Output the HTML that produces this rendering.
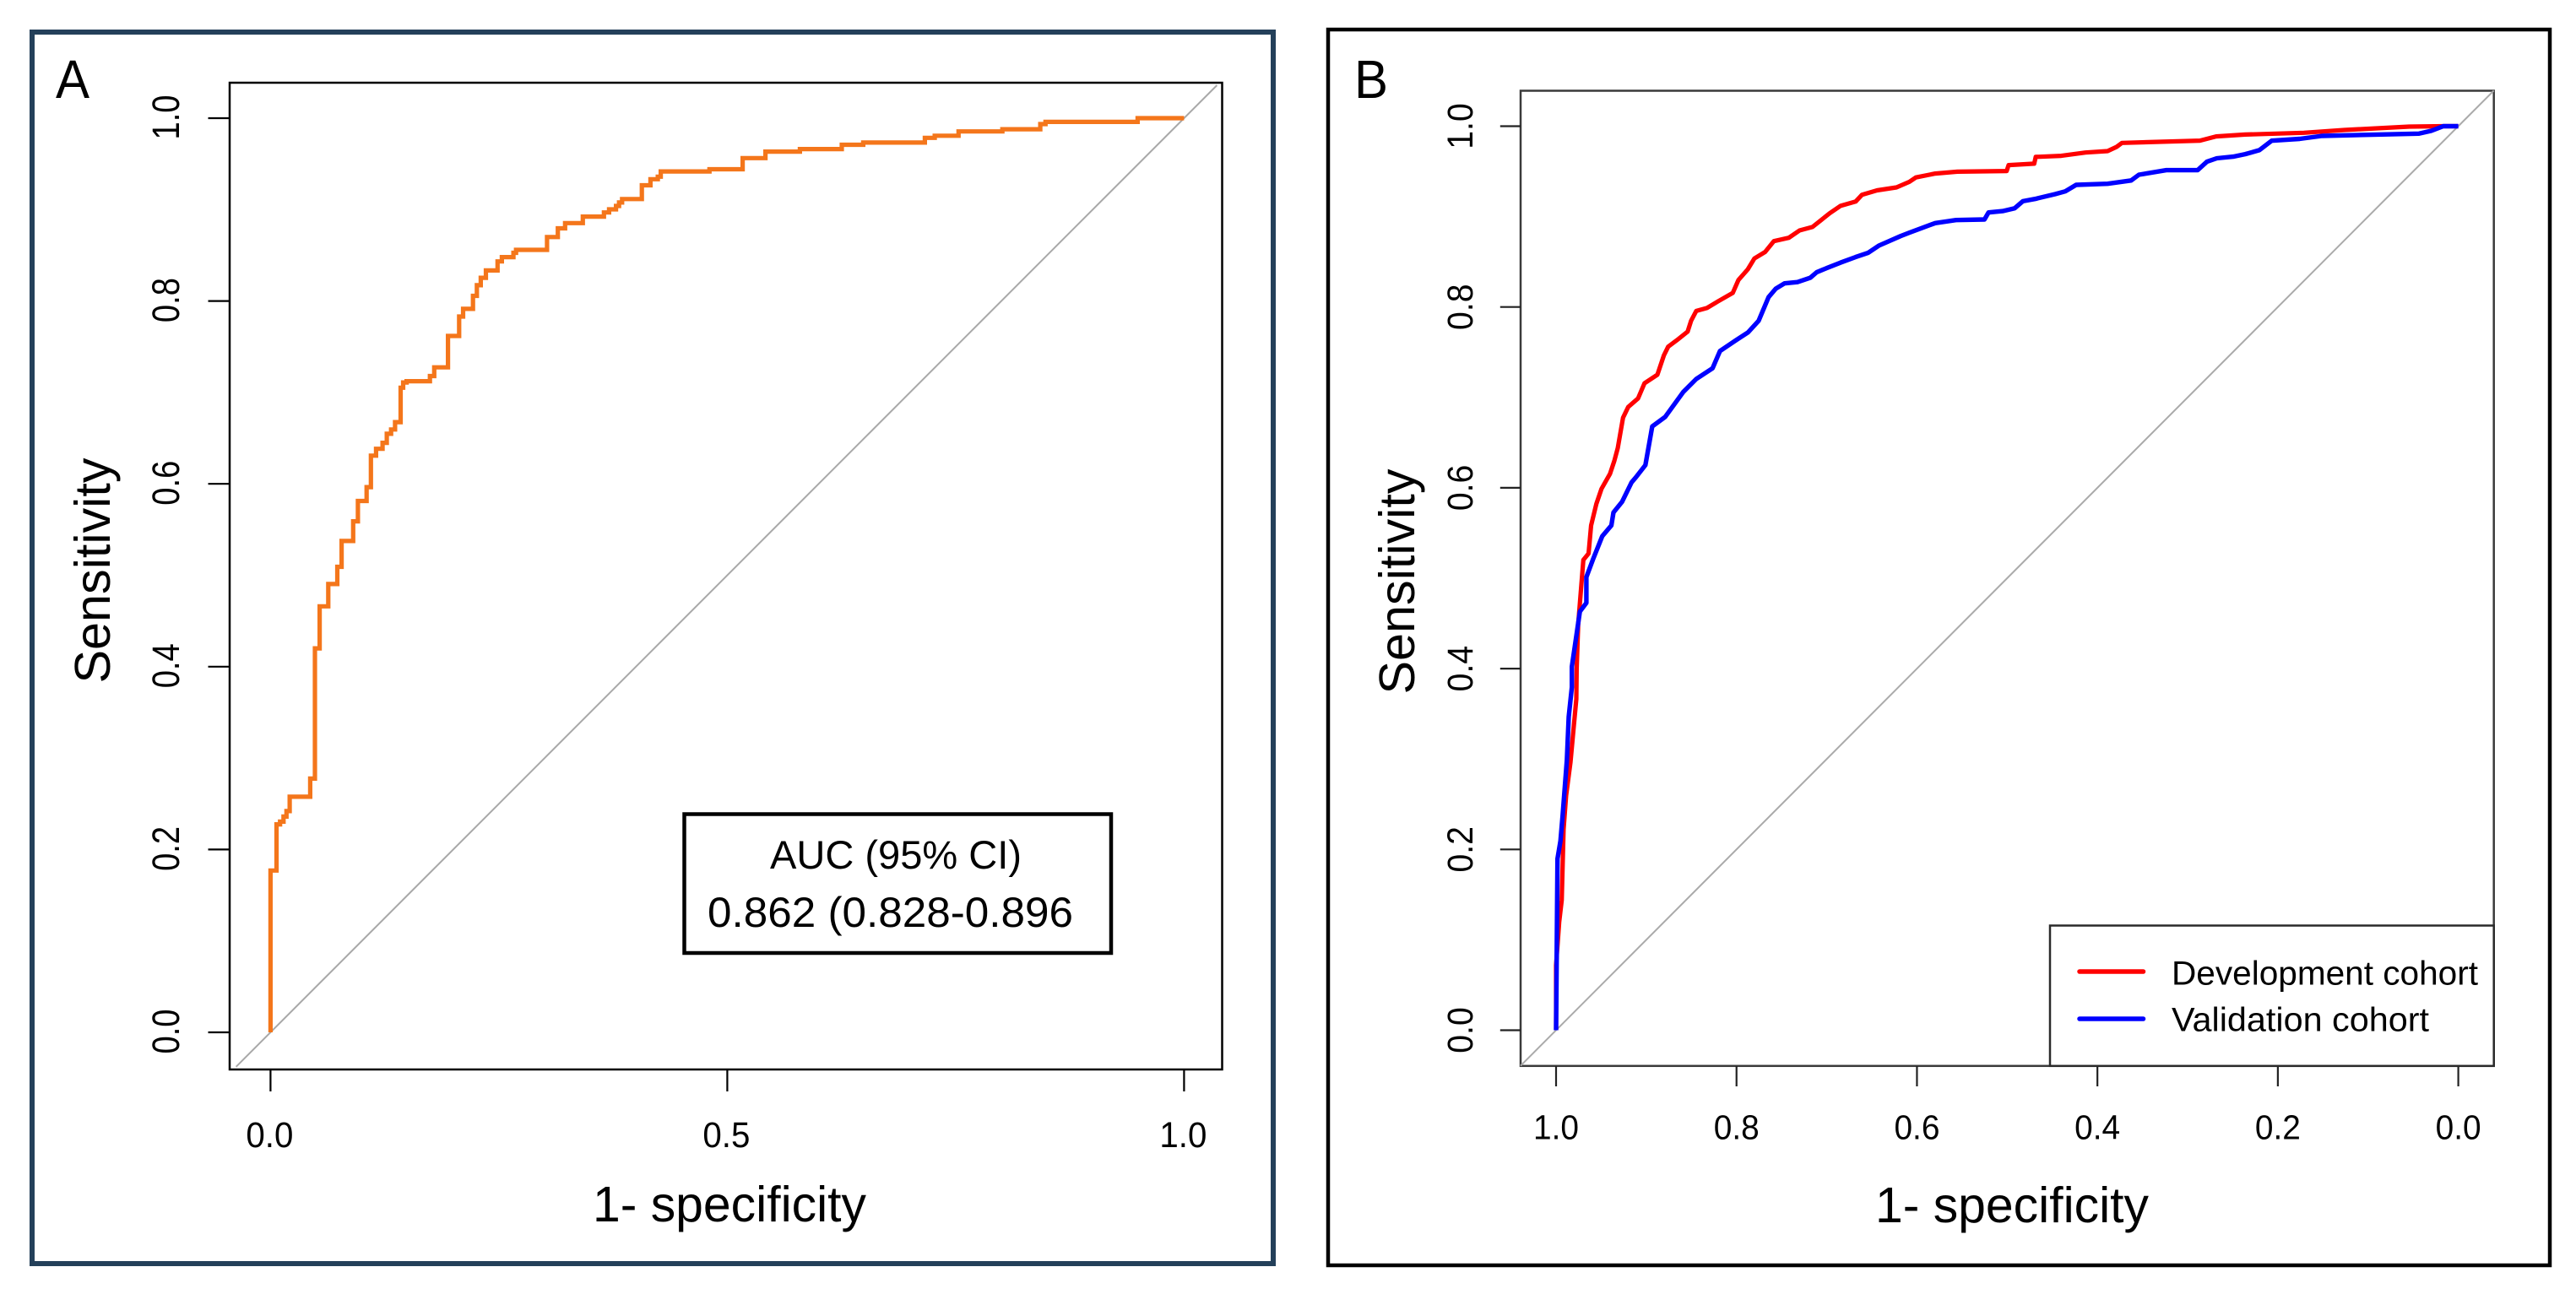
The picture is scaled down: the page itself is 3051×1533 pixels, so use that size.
<!DOCTYPE html>
<html lang="en">
<head>
<meta charset="utf-8">
<title>ROC curves</title>
<style>
html,body{margin:0;padding:0;background:#fff;}
svg{display:block;}
text{font-family:"Liberation Sans",Arial,sans-serif;fill:#000;}
</style>
</head>
<body>
<svg id="figure" xmlns="http://www.w3.org/2000/svg" width="3051" height="1533" viewBox="0 0 3051 1533">
  <rect x="0" y="0" width="3051" height="1533" fill="#fff"/>

  <g id="panelA">
    <rect x="38" y="38" width="1470" height="1459" fill="#fff" stroke="#24405a" stroke-width="6"/>
    <text x="66" y="116" font-size="64" textLength="40" lengthAdjust="spacingAndGlyphs">A</text>
    <rect x="272" y="98" width="1175.5" height="1169" fill="none" stroke="#000" stroke-width="2.5"/>
    <text transform="translate(130,676) rotate(-90)" text-anchor="middle" font-size="59" textLength="267" lengthAdjust="spacingAndGlyphs">Sensitivity</text>
    <text x="702" y="1447" font-size="59" textLength="324" lengthAdjust="spacingAndGlyphs">1- specificity</text>
    <g id="aTicks"></g>
    <g id="aSeries"></g>
    <g>
      <rect x="810.5" y="964.5" width="505.5" height="164.5" fill="#fff" stroke="#000" stroke-width="4.5"/>
      <text x="912" y="1029" font-size="47" textLength="298" lengthAdjust="spacingAndGlyphs">AUC (95% CI)</text>
      <text x="838" y="1098" font-size="50" textLength="433" lengthAdjust="spacingAndGlyphs">0.862 (0.828-0.896</text>
    </g>
  </g>

  <g id="panelB">
    <rect x="1573" y="35" width="1447" height="1464" fill="#fff" stroke="#000" stroke-width="4.5"/>
    <text x="1604" y="116" font-size="64" textLength="40" lengthAdjust="spacingAndGlyphs">B</text>
    <rect x="1801" y="107.5" width="1152.7" height="1155.3" fill="none" stroke="#3a3a3a" stroke-width="2.5"/>
    <text transform="translate(1675,689) rotate(-90)" text-anchor="middle" font-size="59" textLength="267" lengthAdjust="spacingAndGlyphs">Sensitivity</text>
    <text x="2221" y="1448" font-size="59" textLength="324" lengthAdjust="spacingAndGlyphs">1- specificity</text>
    <g id="bTicks"></g>
    <g id="bSeries"></g>
    <g>
      <rect x="2428" y="1096.5" width="525.7" height="166.3" fill="#fff" stroke="#2a2a2a" stroke-width="2.5"/>
      <line x1="2463" y1="1151" x2="2538.5" y2="1151" stroke="#ff0000" stroke-width="5.5" stroke-linecap="round"/>
      <line x1="2463" y1="1207" x2="2538.5" y2="1207" stroke="#0000ff" stroke-width="5.5" stroke-linecap="round"/>
      <text x="2572" y="1166.5" font-size="40" textLength="363" lengthAdjust="spacingAndGlyphs">Development cohort</text>
      <text x="2572" y="1221.5" font-size="40" textLength="305" lengthAdjust="spacingAndGlyphs">Validation cohort</text>
    </g>
  </g>
</svg>

<script>
// Panel A data: false-positive rate (1 - specificity) and sensitivity at each step
const aFpr = [0,0,.0066,.0104,.0142,.0175,.021,.0434,.0486,.0538,.0632,.0731,.0778,.0905,.0957,.1052,.1099,.1155,.1226,.1273,.132,.1363,.1424,.1452,.149,.1745,.1792,.1943,.2065,.2108,.2216,.2259,.2301,.2358,.2485,.2532,.2659,.2688,.3027,.3145,.3225,.3419,.3650,.3706,.3782,.3815,.3848,.4065,.4159,.4239,.4272,.4805,.5168,.5418,.5795,.6253,.6488,.7163,.7271,.7531,.8011,.8426,.8483,.9492,1.0];
const aSens = [0,.177,.2275,.2305,.236,.242,.2577,.2776,.42,.466,.4904,.5092,.5375,.559,.5813,.5964,.6308,.6383,.6449,.6548,.6595,.6675,.7052,.7109,.7123,.7179,.7274,.7618,.783,.7914,.8056,.8173,.8254,.8334,.8433,.848,.8527,.856,.87,.8795,.8852,.8923,.8969,.9003,.904,.9078,.9115,.9266,.9332,.936,.9417,.9441,.9563,.9634,.9662,.9709,.9733,.9785,.9808,.9855,.9879,.9935,.9959,1.0,1.0];
const aXTicks = [0,0.5,1];
const aXLabels = ["0.0","0.5","1.0"];
const aYTicks = [0,0.2,0.4,0.6,0.8,1];
const aYLabels = ["0.0","0.2","0.4","0.6","0.8","1.0"];

// Panel B data: 1 - specificity and sensitivity at each vertex, per cohort
const devFpr = [0,.0,.0035,.0063,.0083,.0111,.016,.019,.0225,.0228,.0245,.0302,.036,.0388,.0446,.0503,.0598,.0646,.0684,.0742,.0799,.0909,.098,.1123,.1195,.1243,.1338,.1458,.1496,.1553,.1672,.1792,.1959,.2021,.2126,.2198,.2317,.2413,.258,.2699,.2842,.3033,.3153,.332,.3391,.3558,.3773,.3916,.3988,.4203,.4447,.4994,.5016,.5299,.5316,.5599,.5868,.6113,.6213,.6272,.7136,.7316,.7638,.8288,.8736,.9454,.983,1.0];
const devSens = [0,.0718,.1198,.1438,.2224,.2595,.2966,.3293,.3664,.4002,.4488,.5202,.5274,.5584,.5822,.5989,.6155,.6298,.6441,.6775,.6894,.6989,.7156,.7251,.7465,.7561,.7632,.7727,.7847,.7956,.7989,.8061,.8156,.8299,.8418,.8537,.8609,.8728,.8766,.8847,.8885,.9037,.9119,.9166,.9242,.929,.9323,.9385,.9433,.9476,.9497,.9504,.957,.9585,.966,.9672,.9709,.9725,.9771,.9815,.984,.9887,.9908,.9927,.9958,.9995,1.0,1.0];
const valFpr = [0,.0016,.0049,.0073,.012,.014,.0175,.0175,.0264,.0336,.0336,.0407,.0455,.0512,.0613,.0636,.0732,.0837,.0885,.099,.1066,.1209,.141,.1553,.1735,.1816,.1993,.2126,.2245,.2355,.2436,.2532,.2675,.2818,.2889,.3008,.3151,.3318,.3461,.3581,.382,.3916,.4203,.4433,.4748,.4793,.4949,.5083,.5173,.5308,.5531,.5644,.5765,.6113,.6374,.646,.6764,.711,.7213,.7324,.7504,.7638,.7795,.7931,.8243,.8489,.9565,.97,.9833,1.0];
const valSens = [0,.1897,.2093,.2377,.2988,.3468,.3795,.4021,.4631,.4726,.5012,.5203,.5322,.5465,.5584,.5727,.5846,.606,.6117,.6251,.6679,.6784,.7061,.7204,.7323,.7513,.7632,.7718,.7847,.8109,.8204,.8261,.8275,.8323,.8385,.8433,.849,.8552,.86,.8681,.8785,.8823,.8928,.8962,.8968,.9046,.9061,.9092,.917,.9195,.9248,.9279,.9351,.9363,.94,.9463,.9514,.9514,.9607,.9645,.9663,.9691,.9735,.9839,.986,.9893,.9918,.9949,1.0,1.0];
const bXTicks = [1,0.8,0.6,0.4,0.2,0];
const bXLabels = ["1.0","0.8","0.6","0.4","0.2","0.0"];
const bYTicks = [0,0.2,0.4,0.6,0.8,1];
const bYLabels = ["0.0","0.2","0.4","0.6","0.8","1.0"];

const NS = "http://www.w3.org/2000/svg";

// Axis functions
function axX(v){ return 320.4 + v * 1082; }
function ayY(v){ return 1223 - v * 1083; }
function bxX(spec){ return 2911.6 - spec * 1068.6; }
function byY(v){ return 1220.5 - v * 1071; }

function stepPath(xs, ys, fx, fy){
  let d = "M" + fx(xs[0]).toFixed(1) + " " + fy(ys[0]).toFixed(1);
  for (let i = 1; i < xs.length; i++) {
    d += "H" + fx(xs[i]).toFixed(1) + "V" + fy(ys[i]).toFixed(1);
  }
  return d;
}

function linePath(xs, ys, fx, fy){
  let d = "M" + fx(xs[0]).toFixed(1) + " " + fy(ys[0]).toFixed(1);
  for (let i = 1; i < xs.length; i++) {
    d += "L" + fx(xs[i]).toFixed(1) + " " + fy(ys[i]).toFixed(1);
  }
  return d;
}

function shape(tag, attrs){
  const el = document.createElementNS(NS, tag);
  for (const k in attrs) el.setAttribute(k, attrs[k]);
  return el;
}

// Panel A axes
const aAxes = document.getElementById("aTicks");
aXTicks.forEach(function(v, i){
  const tick = shape("line", {x1:axX(v), x2:axX(v), y1:1267, y2:1293, stroke:"#000", "stroke-width":2.2});
  
  
  aAxes.appendChild(tick);
  const label = shape("text", {x:axX(v)-1, y:1359, "text-anchor":"middle", "font-size":43, textLength:56, lengthAdjust:"spacingAndGlyphs"});
  
  
  label.textContent = aXLabels[i];
  aAxes.appendChild(label);
});
aYTicks.forEach(function(v, i){
  const tick = shape("line", {x1:246.5, x2:272, y1:ayY(v), y2:ayY(v), stroke:"#000", "stroke-width":2.2});
  
  
  aAxes.appendChild(tick);
  const label = shape("text", {transform:"translate(212," + (ayY(v)-1) + ") rotate(-90)", "text-anchor":"middle", "font-size":45, textLength:53, lengthAdjust:"spacingAndGlyphs"});
  
  
  label.textContent = aYLabels[i];
  aAxes.appendChild(label);
});

// Panel A series
const aGroup = document.getElementById("aSeries");
const aDiag = shape("line", {x1:axX(-0.0377), y1:ayY(-0.0377), x2:axX(1.036), y2:ayY(1.036), stroke:"#a8a8a8", "stroke-width":2});


aGroup.appendChild(aDiag);
const aCurve = shape("path", {d:stepPath(aFpr, aSens, axX, ayY), fill:"none", stroke:"#f4761b", "stroke-width":5.2, "stroke-linejoin":"miter"});


aGroup.appendChild(aCurve);

// Panel B axes
const bAxes = document.getElementById("bTicks");
bXTicks.forEach(function(v, i){
  const tick = shape("line", {x1:bxX(v), x2:bxX(v), y1:1263, y2:1287, stroke:"#222", "stroke-width":2.2});
  
  
  bAxes.appendChild(tick);
  const label = shape("text", {x:bxX(v), y:1349.5, "text-anchor":"middle", "font-size":41, textLength:54, lengthAdjust:"spacingAndGlyphs"});
  
  
  label.textContent = bXLabels[i];
  bAxes.appendChild(label);
});
bYTicks.forEach(function(v, i){
  const tick = shape("line", {x1:1776.8, x2:1801, y1:byY(v), y2:byY(v), stroke:"#222", "stroke-width":2.2});
  
  
  bAxes.appendChild(tick);
  const label = shape("text", {transform:"translate(1744," + byY(v) + ") rotate(-90)", "text-anchor":"middle", "font-size":42.5, textLength:54.5, lengthAdjust:"spacingAndGlyphs"});
  
  
  label.textContent = bYLabels[i];
  bAxes.appendChild(label);
});

// Panel B series: specificity = 1 - fpr on a reversed axis
function bxFpr(f){ return bxX(1 - f); }
const bGroup = document.getElementById("bSeries");
const bDiag = shape("line", {x1:bxFpr(-0.0393), y1:byY(-0.0393), x2:bxFpr(1.0393), y2:byY(1.0393), stroke:"#aaaaaa", "stroke-width":2});


bGroup.appendChild(bDiag);
const devCurve = shape("path", {d:linePath(devFpr, devSens, bxFpr, byY), fill:"none", stroke:"#ff0000", "stroke-width":5.2, "stroke-linejoin":"round"});


bGroup.appendChild(devCurve);
const valCurve = shape("path", {d:linePath(valFpr, valSens, bxFpr, byY), fill:"none", stroke:"#0000ff", "stroke-width":5.4, "stroke-linejoin":"round"});


bGroup.appendChild(valCurve);
</script>
</body>
</html>
